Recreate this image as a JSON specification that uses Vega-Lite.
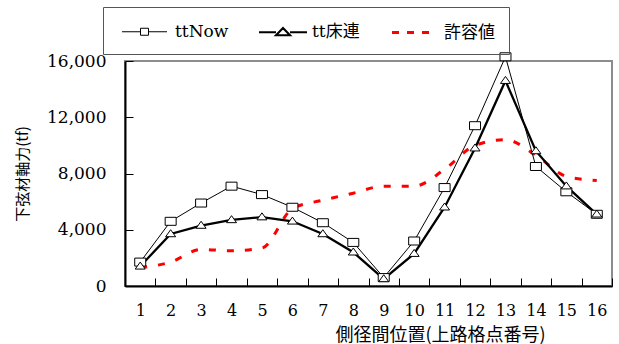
{
  "$schema": "https://vega.github.io/schema/vega-lite/v6.json",
  "width": 487,
  "height": 225,
  "autosize": {"type": "none"},
  "padding": {"left": 125, "top": 61, "right": 7, "bottom": 58},
  "background": "white",
  "config": {
    "view": {"stroke": "#8c8c8c", "strokeWidth": 2},
    "legend": {
      "orient": "none",
      "legendX": -22,
      "legendY": -54,
      "direction": "horizontal",
      "columns": 3,
      "padding": 13.5,
      "strokeColor": "#555555",
      "labelFont": "DejaVu Serif, Noto Sans CJK JP",
      "labelFontSize": 17,
      "labelColor": "black",
      "labelOffset": 34.5,
      "columnPadding": 25,
      "symbolSize": 400,
      "symbolOpacity": 1
    }
  },
  "data": {"values": [
    {"pos": 1, "series": "ttNow", "value": 1700},
    {"pos": 2, "series": "ttNow", "value": 4600},
    {"pos": 3, "series": "ttNow", "value": 5900},
    {"pos": 4, "series": "ttNow", "value": 7100},
    {"pos": 5, "series": "ttNow", "value": 6500},
    {"pos": 6, "series": "ttNow", "value": 5600},
    {"pos": 7, "series": "ttNow", "value": 4500},
    {"pos": 8, "series": "ttNow", "value": 3100},
    {"pos": 9, "series": "ttNow", "value": 600},
    {"pos": 10, "series": "ttNow", "value": 3200},
    {"pos": 11, "series": "ttNow", "value": 7000},
    {"pos": 12, "series": "ttNow", "value": 11400},
    {"pos": 13, "series": "ttNow", "value": 16300},
    {"pos": 14, "series": "ttNow", "value": 8500},
    {"pos": 15, "series": "ttNow", "value": 6700},
    {"pos": 16, "series": "ttNow", "value": 5100},
    {"pos": 1, "series": "tt床連", "value": 1400},
    {"pos": 2, "series": "tt床連", "value": 3700},
    {"pos": 3, "series": "tt床連", "value": 4300},
    {"pos": 4, "series": "tt床連", "value": 4700},
    {"pos": 5, "series": "tt床連", "value": 4900},
    {"pos": 6, "series": "tt床連", "value": 4600},
    {"pos": 7, "series": "tt床連", "value": 3700},
    {"pos": 8, "series": "tt床連", "value": 2400},
    {"pos": 9, "series": "tt床連", "value": 500},
    {"pos": 10, "series": "tt床連", "value": 2300},
    {"pos": 11, "series": "tt床連", "value": 5600},
    {"pos": 12, "series": "tt床連", "value": 9800},
    {"pos": 13, "series": "tt床連", "value": 14600},
    {"pos": 14, "series": "tt床連", "value": 9600},
    {"pos": 15, "series": "tt床連", "value": 7100},
    {"pos": 16, "series": "tt床連", "value": 5100},
    {"pos": 1, "series": "許容値", "value": 1300},
    {"pos": 2, "series": "許容値", "value": 1700},
    {"pos": 3, "series": "許容値", "value": 2600},
    {"pos": 4, "series": "許容値", "value": 2500},
    {"pos": 5, "series": "許容値", "value": 2700},
    {"pos": 6, "series": "許容値", "value": 5500},
    {"pos": 7, "series": "許容値", "value": 6100},
    {"pos": 8, "series": "許容値", "value": 6600},
    {"pos": 9, "series": "許容値", "value": 7100},
    {"pos": 10, "series": "許容値", "value": 7100},
    {"pos": 11, "series": "許容値", "value": 8300},
    {"pos": 12, "series": "許容値", "value": 10000},
    {"pos": 13, "series": "許容値", "value": 10400},
    {"pos": 14, "series": "許容値", "value": 9300},
    {"pos": 15, "series": "許容値", "value": 7800},
    {"pos": 16, "series": "許容値", "value": 7500}
  ]},
  "encoding": {
    "x": {
      "field": "pos",
      "type": "ordinal",
      "scale": {"type": "band", "paddingInner": 0, "paddingOuter": 0},
      "axis": {
        "title": "側径間位置(上路格点番号)",
        "labelAngle": 0,
        "tickBand": "extent",
        "tickSize": -8,
        "tickColor": "black",
        "domainColor": "black",
        "domainWidth": 2,
        "labelPadding": 24,
        "labelFont": "DejaVu Serif",
        "labelFontSize": 16,
        "labelColor": "black",
        "titleFont": "Noto Sans CJK JP",
        "titleFontSize": 18,
        "titleFontWeight": "normal",
        "titleColor": "black",
        "titleX": 315,
        "titleY": 49,
        "titleBaseline": "middle",
        "titleAlign": "center",
        "grid": false
      }
    },
    "y": {
      "field": "value",
      "type": "quantitative",
      "scale": {"domain": [0, 16000], "nice": false},
      "axis": {
        "title": "下弦材軸力(tf)",
        "values": [0, 4000, 8000, 12000, 16000],
        "format": ",.0f",
        "tickSize": -8,
        "tickColor": "black",
        "domainColor": "black",
        "domainWidth": 2,
        "labelPadding": 27,
        "labelFont": "DejaVu Serif",
        "labelFontSize": 17,
        "labelColor": "black",
        "titleFont": "Noto Sans CJK JP",
        "titleFontSize": 15,
        "titleFontWeight": "normal",
        "titleColor": "black",
        "titleX": -103,
        "titleY": 112.5,
        "titleBaseline": "middle",
        "titleAlign": "center",
        "grid": false
      }
    }
  },
  "layer": [
    {
      "transform": [{"filter": "datum.series === '許容値'"}],
      "mark": {"type": "line", "color": "#ff0000", "strokeWidth": 3, "strokeDash": [7, 11], "interpolate": "monotone"}
    },
    {
      "transform": [{"filter": "datum.series === 'ttNow'"}],
      "mark": {"type": "line", "color": "black", "strokeWidth": 1}
    },
    {
      "transform": [{"filter": "datum.series === 'tt床連'"}],
      "mark": {"type": "line", "color": "black", "strokeWidth": 2.3}
    },
    {
      "transform": [{"filter": "datum.series === 'ttNow'"}],
      "mark": {"type": "point", "shape": "M-1.1,-0.8H1.1V0.8H-1.1Z", "filled": true, "fill": "white", "stroke": "black", "fillOpacity": 1, "strokeWidth": 1, "size": 100, "opacity": 1}
    },
    {
      "transform": [{"filter": "datum.series === 'tt床連'"}],
      "mark": {"type": "point", "shape": "M-1,0.55L0,-0.85L1,0.55Z", "filled": true, "fill": "white", "stroke": "black", "fillOpacity": 1, "strokeWidth": 1, "size": 100, "opacity": 1}
    },
    {
      "mark": {"type": "point", "filled": false, "opacity": 0},
      "encoding": {
        "shape": {
          "field": "series",
          "type": "nominal",
          "scale": {
            "domain": ["ttNow", "tt床連", "許容値"],
            "range": [
              "M-0.65,0H1.2M2,0H3.85M1.2,-0.35H2V0.35H1.2Z",
              "M-0.65,0H1.05M2.45,0H4.15M1.05,0.3L1.75,-0.42L2.45,0.3Z",
              "M-0.55,0H0.15M0.95,0H1.65M2.45,0H3.15"
            ]
          },
          "legend": {"title": null}
        },
        "stroke": {
          "field": "series",
          "type": "nominal",
          "scale": {"domain": ["ttNow", "tt床連", "許容値"], "range": ["black", "black", "#ff0000"]},
          "legend": {"title": null}
        },
        "strokeWidth": {
          "field": "series",
          "type": "ordinal",
          "scale": {"domain": ["ttNow", "tt床連", "許容値"], "range": [1.0, 3.2]},
          "legend": {"title": null}
        }
      }
    }
  ]
}
